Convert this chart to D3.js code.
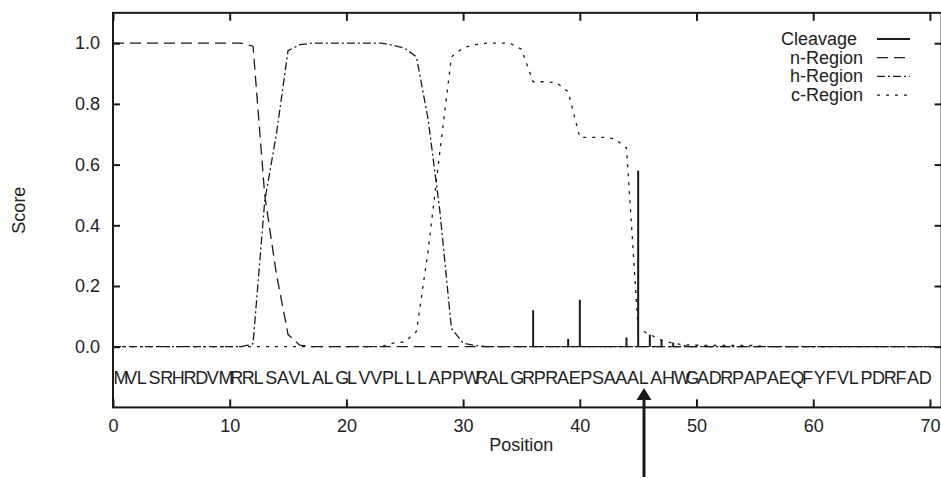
<!DOCTYPE html>
<html>
<head>
<meta charset="utf-8">
<script src="https://cdn.jsdelivr.net/npm/d3@7"></script>
<style>
  html, body { margin: 0; padding: 0; background: #fff; }
  svg { display: block; font-family: "Liberation Sans", Arial, Helvetica, sans-serif; }
</style>
</head>
<body>
<div id="chart"></div>
<script>
/** Canvas size */
const W = 941, H = 478;

// residue positions plotted along x (0..71)
const positions = [
   0, 1, 2, 3, 4, 5, 6, 7, 8, 9,
  10,11,12,13,14,15,16,17,18,19,
  20,21,22,23,24,25,26,27,28,29,
  30,31,32,33,34,35,36,37,38,39,
  40,41,42,43,44,45,46,47,48,49,
  50,51,52,53,54,55,56,57,58,59,
  60,61,62,63,64,65,66,67,68,69,
  70,71
];

const sequence = "MVLSRHRDVMRRLSAVLALGLVVPLLLAPPWRALGRPRAEPSAAALAHWGADRPAPAEQFYFVLPDRFAD".split("");

const cleavage = [
  0,0,0,0,0,0,0,0,0,0,
  0,0,0,0,0,0,0,0,0,0,
  0,0,0,0,0,0,0,0,0,0,
  0,0,0,0,0,0,0.12,0,0,0.025,
  0.155,0,0,0,0.03,0.58,0.04,0.022,0.014,0.006,
  0.005,0,0,0,0,0,0,0,0,0,
  0,0,0,0,0,0,0,0,0,0,
  0,0
];

const nRegion = [
  1,1,1,1,1,1,1,1,1,1,
  1,1,0.99,0.5,0.24,0.04,0.005,0,0,0,
  0,0,0,0,0,0,0,0,0,0,
  0,0,0,0,0,0,0,0,0,0,
  0,0,0,0,0,0,0,0,0,0,
  0,0,0,0,0,0,0,0,0,0,
  0,0,0,0,0,0,0,0,0,0,
  0,0
];

const hRegion = [
  0,0,0,0,0,0,0,0,0,0,
  0,0,0.01,0.48,0.7,0.975,0.995,1,1,1,
  1,1,1,1,0.993,0.983,0.955,0.75,0.45,0.06,
  0.012,0.004,0,0,0,0,0,0,0,0,
  0,0,0,0,0,0,0,0,0,0,
  0,0,0,0,0,0,0,0,0,0,
  0,0,0,0,0,0,0,0,0,0,
  0,0
];

const cRegion = [
  0,0,0,0,0,0,0,0,0,0,
  0,0,0,0,0,0,0,0,0,0,
  0,0,0,0,0.012,0.016,0.05,0.315,0.64,0.955,
  0.985,0.995,1,1,1,0.98,0.873,0.873,0.87,0.84,
  0.69,0.69,0.69,0.685,0.655,0.06,0.04,0.022,0.011,0.006,
  0.005,0.004,0.004,0.004,0.004,0.004,0,0,0,0,
  0,0,0,0,0,0,0,0,0,0,
  0,0
];

const xTicks = [0, 10, 20, 30, 40, 50, 60, 70];
const yTicks = [0, 0.2, 0.4, 0.6, 0.8, 1.0];

// cleavage site marked by the arrow under the sequence
const cleavageSite = 45.5;

const legendItems = [
  { label: "Cleavage", dash: null },
  { label: "n-Region", dash: "11,6" },
  { label: "h-Region", dash: "8,3,2,3" },
  { label: "c-Region", dash: "3,6" }
];

const x = d3.scaleLinear().domain([0, 71]).range([113, 941.6]);
const y = d3.scaleLinear().domain([-0.2, 1.1]).range([407.4, 12.85]);

const svg = d3.select("#chart").append("svg")
  .attr("width", W).attr("height", H).attr("viewBox", [0, 0, W, H]);

svg.append("defs").append("clipPath").attr("id", "plot-clip")
  .append("rect").attr("x", x(0)).attr("y", y(1.1))
  .attr("width", x(71) - x(0)).attr("height", y(-0.2) - y(1.1));

const ink = "#1a1a1a";

// sequence letters, left-justified at (i-1)
svg.append("g").selectAll("text").data(sequence).join("text")
  .attr("x", (d, i) => x(i) + 0.5)
  .attr("y", y(-0.1))
  .attr("dy", "0.36em")
  .attr("font-size", 18)
  .attr("fill", "#222")
  .text(d => d);

// region curves
const line = d3.line().x((d, i) => x(positions[i])).y(d => y(d));
const plotG = svg.append("g").attr("clip-path", "url(#plot-clip)");
[[nRegion, "11,6"], [hRegion, "8,3,2,3"], [cRegion, "3,6"]].forEach(([series, dash]) => {
  plotG.append("path").datum(series)
    .attr("d", line)
    .attr("fill", "none")
    .attr("stroke", ink)
    .attr("stroke-width", 1.3)
    .attr("stroke-dasharray", dash);
});

// cleavage impulses
plotG.append("g").selectAll("line").data(positions.filter((p, i) => cleavage[i] > 0)).join("line")
  .attr("x1", p => x(p)).attr("x2", p => x(p))
  .attr("y1", y(0)).attr("y2", p => y(cleavage[positions.indexOf(p)]))
  .attr("stroke", ink).attr("stroke-width", 2);

// axes with inward ticks on all four sides
const styleAxis = g => {
  g.select(".domain").remove();
  g.selectAll(".tick line").attr("stroke", ink).attr("stroke-width", 2);
  g.selectAll(".tick text").attr("fill", "#222").attr("font-size", 18).attr("font-family", null);
};
svg.append("g").attr("transform", `translate(0,${y(-0.2)})`)
  .call(d3.axisBottom(x).tickValues(xTicks).tickSize(-8).tickPadding(12).tickFormat(d3.format("d")))
  .call(styleAxis);
svg.append("g").attr("transform", `translate(0,${y(1.1)})`)
  .call(d3.axisTop(x).tickValues(xTicks).tickSize(-8).tickFormat(""))
  .call(styleAxis);
svg.append("g").attr("transform", `translate(${x(0)},0)`)
  .call(d3.axisLeft(y).tickValues(yTicks).tickSize(-7).tickPadding(13).tickFormat(d3.format(".1f")))
  .call(styleAxis);
svg.append("g").attr("transform", `translate(${x(71)},0)`)
  .call(d3.axisRight(y).tickValues(yTicks).tickSize(-7).tickFormat(""))
  .call(styleAxis);

// frame
svg.append("rect")
  .attr("x", x(0)).attr("y", y(1.1))
  .attr("width", x(71) - x(0)).attr("height", y(-0.2) - y(1.1))
  .attr("fill", "none").attr("stroke", ink).attr("stroke-width", 2);

// axis titles
svg.append("text").attr("x", (x(0) + x(71)) / 2 - 6).attr("y", 451)
  .attr("text-anchor", "middle").attr("font-size", 18).attr("fill", "#222").text("Position");
svg.append("text").attr("transform", `translate(25,${(y(1.1) + y(-0.2)) / 2}) rotate(-90)`)
  .attr("text-anchor", "middle").attr("font-size", 18).attr("fill", "#222").text("Score");

// legend (gnuplot leaves "Cleavage" a little short of the other labels)
const legend = svg.append("g");
legendItems.forEach((item, i) => {
  const by = 45 + i * 18.7;
  legend.append("text").attr("x", item.dash ? 863 : 857).attr("y", by)
    .attr("text-anchor", "end").attr("font-size", 18).attr("fill", "#222").text(item.label);
  legend.append("line").attr("x1", 877).attr("x2", 910).attr("y1", by - 6).attr("y2", by - 6)
    .attr("stroke", ink).attr("stroke-width", item.dash ? 1.3 : 2)
    .attr("stroke-dasharray", item.dash);
});

// arrow pointing at the cleavage site
const ax = x(cleavageSite);
svg.append("line").attr("x1", ax).attr("x2", ax).attr("y1", 477).attr("y2", 398)
  .attr("stroke", ink).attr("stroke-width", 3);
svg.append("path")
  .attr("d", `M${ax},388L${ax - 7.5},400L${ax + 7.5},400Z`)
  .attr("fill", ink);
</script>
</body>
</html>
